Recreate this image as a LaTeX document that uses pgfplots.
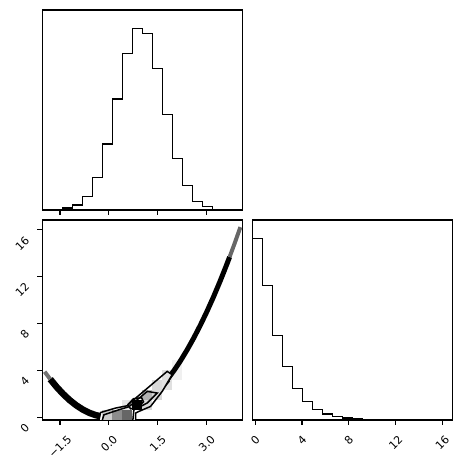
\documentclass[border=0pt]{standalone}
\usepackage{pgfplots}
\pgfplotsset{compat=1.18}
\usepackage{fontspec}
\setmainfont{DejaVu Sans}
\usepackage{graphicx}
\newcommand{\rl}[1]{\rotatebox{45}{#1}}
\pgfplotsset{corner/.style={width=200pt,height=200pt,scale only axis,anchor=south west,
  axis line style={line width=1.1pt}, tick align=outside, major tick length=4.9pt,
  tick style={black,line width=1.1pt}, tick pos=left,
  tick label style={font=\fontsize{11}{13}\selectfont},
  xticklabel style={anchor=north, yshift=-6pt},
  yticklabel style={rotate=45, anchor=mid east, inner sep=2pt, xshift=-11pt},
  /pgf/number format/assume math mode=true}}
\begin{document}
\begin{tikzpicture}
% top-left marginal histogram
\begin{axis}[corner, at={(42.3pt,263pt)}, xmin=-2.043, xmax=4.089, ymin=0, ymax=600,
  xtick={-1.5,0,1.5,3}, xticklabels={}, ytick=\empty]
\addplot[black, line width=1.5pt, const plot mark left] coordinates {
(-2.043,0) (-2.043,1) (-1.736,2) (-1.430,6) (-1.123,15) (-0.817,41) (-0.510,98)
(-0.203,198) (0.103,333) (0.410,470) (0.716,545) (1.023,529) (1.330,425)
(1.636,287) (1.943,155) (2.249,73) (2.556,26) (2.863,10) (3.169,2) (3.476,2)
(3.782,1) (4.089,1) (4.089,0)};
\end{axis}
% bottom-left 2D
\begin{axis}[corner, at={(42.3pt,53pt)}, xmin=-2.043, xmax=4.089, ymin=-0.25, ymax=16.85,
  xtick={-1.5,0,1.5,3}, xticklabels={\rl{−1.5},\rl{0.0},\rl{1.5},\rl{3.0}},
  ytick={0,4,8,12,16}, yticklabels={0,4,8,12,16}]
% data points band
\addplot[black, line width=6.5pt] coordinates {
(-1.8,3.24) (-1.6,2.56) (-1.4,1.96) (-1.2,1.44) (-1.0,1.0) (-0.8,0.64) (-0.6,0.36)
(-0.4,0.16) (-0.2,0.04) (0,0) (0.2,0.04) (0.4,0.16) (0.6,0.36) (0.8,0.64) (1.0,1.0)
(1.2,1.44) (1.4,1.96) (1.6,2.56) (1.8,3.24)};
\addplot[black, line width=5pt] coordinates {
(1.6,2.56) (1.8,3.24) (2.0,4.0) (2.2,4.84) (2.4,5.76)
(2.6,6.76) (2.8,7.84) (3.0,9.0) (3.2,10.24) (3.4,11.56) (3.6,12.96) (3.7,13.69)};
\addplot[black!55, line width=4pt] coordinates {(-1.97,3.88) (-1.9,3.61) (-1.8,3.24)};
\addplot[black!60, line width=4pt] coordinates {(3.7,13.69) (3.85,14.82) (4.03,16.24)};
% white-out inside outer contour
\addplot[fill=white, draw=none] coordinates {
(-0.306,-0.25) (-0.254,0.394) (0.205,0.771) (0.563,0.968) (0.664,1.251) (1.786,3.907)
(1.939,3.625) (1.633,2.194) (1.275,0.908) (0.917,0.480) (0.817,0.343) (0.817,-0.25)};
% density cells
\addplot[fill=black, fill opacity=0.2, draw=none] coordinates {(-0.2034,-0.25) (0.1032,-0.25) (0.1032,0.605) (-0.2034,0.605)};
\addplot[fill=black, fill opacity=0.45, draw=none] coordinates {(0.1032,-0.25) (0.4098,-0.25) (0.4098,0.605) (0.1032,0.605)};
\addplot[fill=black, fill opacity=0.6, draw=none] coordinates {(0.4098,-0.25) (0.7164,-0.25) (0.7164,0.605) (0.4098,0.605)};
\addplot[fill=black, fill opacity=0.1, draw=none] coordinates {(0.4098,0.605) (0.7164,0.605) (0.7164,1.46) (0.4098,1.46)};
\addplot[fill=black, fill opacity=1, draw=none] coordinates {(0.7164,0.605) (1.023,0.605) (1.023,1.46) (0.7164,1.46)};
\addplot[fill=black, fill opacity=0.15, draw=none] coordinates {(1.023,0.605) (1.3296,0.605) (1.3296,1.46) (1.023,1.46)};
\addplot[fill=black, fill opacity=0.3, draw=none] coordinates {(1.023,1.46) (1.3296,1.46) (1.3296,2.315) (1.023,2.315)};
\addplot[fill=black, fill opacity=0.15, draw=none] coordinates {(1.3296,1.46) (1.6362,1.46) (1.6362,2.315) (1.3296,2.315)};
\addplot[fill=black, fill opacity=0.15, draw=none] coordinates {(1.3296,2.315) (1.6362,2.315) (1.6362,3.17) (1.3296,3.17)};
\addplot[fill=black, fill opacity=0.12, draw=none] coordinates {(1.6362,2.315) (1.9428,2.315) (1.9428,3.17) (1.6362,3.17)};
\addplot[fill=black, fill opacity=0.12, draw=none] coordinates {(1.6362,3.17) (1.9428,3.17) (1.9428,4.025) (1.6362,4.025)};
\addplot[fill=black, fill opacity=0.06, draw=none] coordinates {(1.9428,3.17) (2.2494,3.17) (2.2494,4.025) (1.9428,4.025)};
\addplot[fill=black, fill opacity=0.06, draw=none] coordinates {(1.9428,4.025) (2.2494,4.025) (2.2494,4.88) (1.9428,4.88)};
% contour lines
\addplot[black, line width=1.5pt] coordinates {
(-0.306,-0.25) (-0.254,0.394) (0.205,0.771) (0.563,0.968) (0.664,1.251) (1.786,3.907)
(1.939,3.625) (1.633,2.194) (1.275,0.908) (0.917,0.480) (0.817,0.343) (0.817,-0.25)};
\addplot[black, line width=1.5pt] coordinates {
(-0.202,-0.25) (-0.153,0.197) (0.306,0.626) (0.612,0.883) (1.174,2.194) (1.480,2.057)
(1.174,1.200) (0.765,0.626) (0.734,-0.25)};
\addplot[black, line width=1.5pt] coordinates {
(0.572,1.054) (0.755,1.568) (1.0,1.654) (1.06,1.311) (0.878,0.797) (0.664,0.711) (0.572,1.054)};
\end{axis}
% bottom-right marginal histogram
\begin{axis}[corner, at={(252.3pt,53pt)}, xmin=-0.25, xmax=16.85, ymin=0, ymax=600,
  xtick={0,4,8,12,16}, xticklabels={\rl{0},\rl{4},\rl{8},\rl{12},\rl{16}}, ytick=\empty]
\addplot[black, line width=1.5pt, const plot mark left] coordinates {
(-0.25,0) (-0.25,545) (0.605,404) (1.46,254) (2.315,160) (3.17,95) (4.025,56)
(4.88,32) (5.735,18) (6.59,11) (7.445,6) (8.30,3) (9.155,2) (10.01,2) (10.865,2)
(11.72,0) (12.575,0) (13.43,0) (14.285,0) (15.14,0) (15.995,1) (16.85,1) (16.85,0)};
\end{axis}
\pgfresetboundingbox
\path[use as bounding box] (0,0) rectangle (462pt,473pt);
\end{tikzpicture}
\end{document}
